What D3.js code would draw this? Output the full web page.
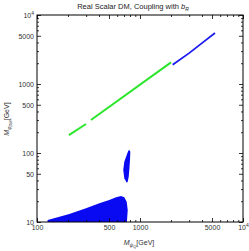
<!DOCTYPE html>
<html>
<head>
<meta charset="utf-8">
<script src="https://cdn.jsdelivr.net/npm/d3@7/dist/d3.min.js"></script>
<style>
  body { margin: 0; background: #fff; }
  svg { display: block; font-family: "Liberation Sans", Arial, sans-serif; }
  .tick text { fill: #333; font-size: 7px; }
</style>
</head>
<body>
<div id="chart"></div>
<script>
// axis ticks (log scales, labelled values)
var xLabelled = [100, 500, 1000, 5000, 10000];
var yLabelled = [10, 50, 100, 500, 1000, 5000, 10000];

// green band (two pieces, small gap)  [M_psiQ, M_phiDM]
var greenA = [[204, 182], [299, 263]];
var greenB = [[334, 301], [2000, 2061]];
// blue band continuing the green one
var blueBand = [[2075, 1905], [3000, 2800], [4200, 4150], [5346, 5480]];

// low-mass blue region (outline)
var lowRegion = [
	[125, 9], [127, 10.7], [206, 13.1], [299, 15.8], [403, 18.7], [503, 20.8],
	[585, 22.8], [654, 23.8], [704, 22.8], [743, 19.7], [760, 14.9], [743, 9]
];
// narrow vertical blue region
var midRegion = [
	[787, 110.5], [805, 104.5], [800, 79.2], [787, 56.8], [777, 45.4], [760, 38.4],
	[743, 37.1], [704, 43.0], [688, 56.8], [704, 74.8], [743, 93.5], [770, 108]
];

var W = 249, H = 251;
var plot = { left: 37, right: 243, top: 15, bottom: 222 };

var svg = d3.select("#chart").append("svg")
	.attr("width", W)
	.attr("height", H);

var x = d3.scaleLog().domain([100, 10000]).range([plot.left, plot.right]);
var y = d3.scaleLog().domain([10, 10000]).range([plot.bottom, plot.top]);

svg.append("clipPath").attr("id", "clip")
	.append("rect")
	.attr("x", plot.left).attr("y", plot.top)
	.attr("width", plot.right - plot.left).attr("height", plot.bottom - plot.top);

var g = svg.append("g").attr("clip-path", "url(#clip)");

var area = d3.line().x(function(d) { return x(d[0]); }).y(function(d) { return y(d[1]); });

g.append("path").datum(lowRegion)
	.attr("d", function(d) { return area(d) + "Z"; })
	.attr("fill", "#0a0af2");

g.append("path").datum(midRegion)
	.attr("d", function(d) { return area(d) + "Z"; })
	.attr("fill", "#0a0af2");

[greenA, greenB].forEach(function(seg) {
	g.append("path").datum(seg)
		.attr("d", area)
		.attr("fill", "none")
		.attr("stroke", "#2ce62c")
		.attr("stroke-width", 2);
});

g.append("path").datum(blueBand)
	.attr("d", area)
	.attr("fill", "none")
	.attr("stroke", "#1a1af0")
	.attr("stroke-width", 1.8);

// frame ticks: minor ones from the scale, labelled ones from the arrays
var xMinor = x.ticks().filter(function(v) { return xLabelled.indexOf(v) < 0; });
var yMinor = y.ticks().filter(function(v) { return yLabelled.indexOf(v) < 0; });

function supFormat(sel) {
	sel.selectAll(".tick text").each(function(d) {
		if (d === 10000) {
			var t = d3.select(this).text("10");
			t.append("tspan").attr("dy", -3).attr("font-size", "5px").text("4");
		}
	});
}

function drawAxis(axisFn, scale, labelled, minor, transform, showLabels) {
	var major = svg.append("g").attr("transform", transform)
		.call(axisFn(scale).tickValues(labelled).tickSizeInner(-4).tickSizeOuter(0).tickPadding(3)
			.tickFormat(showLabels ? d3.format("d") : function() { return ""; }));
	var mnr = svg.append("g").attr("transform", transform)
		.call(axisFn(scale).tickValues(minor).tickSizeInner(-2).tickSizeOuter(0).tickFormat(function() { return ""; }));
	[major, mnr].forEach(function(a) {
		a.select(".domain").remove();
		a.selectAll("line").attr("stroke", "#000").attr("stroke-width", 0.8);
	});
	if (showLabels) supFormat(major);
	return major;
}

drawAxis(d3.axisBottom, x, xLabelled, xMinor, "translate(0," + plot.bottom + ")", true);
drawAxis(d3.axisTop, x, xLabelled, xMinor, "translate(0," + plot.top + ")", false);
drawAxis(d3.axisLeft, y, yLabelled, yMinor, "translate(" + plot.left + ",0)", true);
drawAxis(d3.axisRight, y, yLabelled, yMinor, "translate(" + plot.right + ",0)", false);

svg.append("rect")
	.attr("x", plot.left).attr("y", plot.top)
	.attr("width", plot.right - plot.left).attr("height", plot.bottom - plot.top)
	.attr("fill", "none").attr("stroke", "#000").attr("stroke-width", 1);

// title
var title = svg.append("text")
	.attr("x", 133).attr("y", 9)
	.attr("text-anchor", "middle")
	.attr("font-size", "7.5px")
	.attr("fill", "#222")
	.text("Real Scalar DM, Coupling with ");
title.append("tspan").attr("font-style", "italic").text("b");
title.append("tspan").attr("font-style", "italic").attr("font-size", "5px").attr("dy", 2).text("R");

// x axis title
var xt = svg.append("text")
	.attr("x", 139).attr("y", 245)
	.attr("text-anchor", "middle")
	.attr("font-size", "7px")
	.attr("fill", "#333");
xt.append("tspan").attr("font-style", "italic").text("M");
xt.append("tspan").attr("font-style", "italic").attr("font-size", "5px").attr("dy", 1.5).text("ψ");
xt.append("tspan").attr("font-style", "italic").attr("font-size", "4px").attr("dy", 1).text("Q");
xt.append("tspan").attr("dy", -2.5).text("[GeV]");

// y axis title
var yt = svg.append("text")
	.attr("transform", "translate(9,119) rotate(-90)")
	.attr("text-anchor", "middle")
	.attr("font-size", "7px")
	.attr("fill", "#333");
yt.append("tspan").attr("font-style", "italic").text("M");
yt.append("tspan").attr("font-style", "italic").attr("font-size", "5px").attr("dy", 1.5).text("φ");
yt.append("tspan").attr("font-style", "italic").attr("font-size", "4px").attr("dy", 1).text("DM");
yt.append("tspan").attr("dy", -2.5).text("[GeV]");
</script>
</body>
</html>
